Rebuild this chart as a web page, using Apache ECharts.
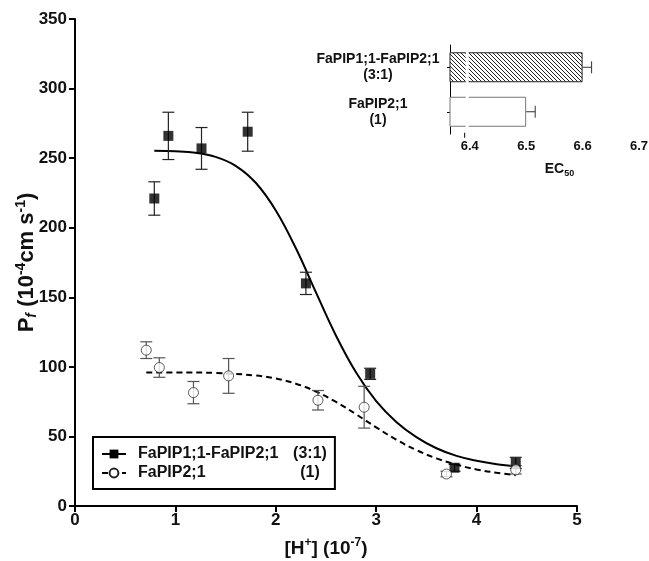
<!DOCTYPE html>
<html>
<head>
<meta charset="utf-8">
<style>
  html, body { margin: 0; padding: 0; background: #fff; }
  #chart { width: 649px; height: 561px; }
</style>
<script src="https://cdn.jsdelivr.net/npm/echarts@6/dist/echarts.min.js"></script>
</head>
<body>
<div id="chart"></div>
<script>
  // main plot: filled squares (3:1 mix)
  const hMix = [0.79, 0.93, 1.26, 1.72, 2.3, 2.94, 3.78, 4.39];
  const pfMix = [221, 266, 257, 269, 160, 95, 27.5, 31];
  const errMix = [12, 17, 15, 14, 8, 4, 2.5, 4];

  // main plot: open circles (FaPIP2;1 alone)
  const hP2 = [0.71, 0.84, 1.18, 1.53, 2.42, 2.88, 3.7, 4.39];
  const pfP2 = [112, 99.5, 81.5, 93.5, 76, 71, 23, 26];
  const errP2 = [6, 7, 8, 12.5, 7, 15, 2, 3];

  // fitted curves
  const fitMixX = [0.79, 1.0, 1.2, 1.4, 1.6, 1.8, 2.0, 2.2, 2.4, 2.6, 2.8, 3.0, 3.2, 3.4, 3.6, 3.8, 4.0, 4.2, 4.39];
  const fitMixY = [255.4, 255, 253.9, 250.9, 244.5, 232.3, 212.4, 185.2, 153.5, 122.4, 95.9, 75.3, 60.4, 49.5, 41.5, 36, 32.5, 30, 28.5];
  const fitP2X = [0.71, 1.0, 1.4, 1.8, 2.0, 2.2, 2.4, 2.6, 2.8, 3.0, 3.2, 3.4, 3.6, 3.8, 4.0, 4.2, 4.39];
  const fitP2Y = [96, 96, 95.6, 93.8, 91.6, 87.9, 82.3, 74.8, 65.9, 56.5, 47.7, 40.2, 34.2, 29.7, 26.3, 23.9, 22.1];

  const xTicks = [0, 1, 2, 3, 4, 5];

  // inset: EC50 bars
  const insetCats = ['FaPIP1;1-FaPIP2;1\n(3:1)', 'FaPIP2;1\n(1)'];
  const ec50 = [6.60, 6.50];
  const ec50Err = [0.016, 0.016];
  const ec50Ticks = [6.4, 6.5, 6.6, 6.7];
  const ec50Break = [6.391, 6.4];

  const legendRatio = { 'FaPIP1;1-FaPIP2;1': '(3:1)', 'FaPIP2;1': '(1)' };

  const FONT = '"Liberation Sans", Arial, sans-serif';

  // diagonal hatch for the mix bar
  const hatch = (() => {
    const c = document.createElement('canvas');
    c.width = 4; c.height = 4;
    const g = c.getContext('2d');
    g.fillStyle = '#fff';
    g.fillRect(0, 0, 4, 4);
    g.strokeStyle = '#222';
    g.lineWidth = 1;
    g.beginPath();
    g.moveTo(-1, -1); g.lineTo(5, 5);
    g.moveTo(-1, 3); g.lineTo(1, 5);
    g.moveTo(3, -1); g.lineTo(5, 1);
    g.stroke();
    return c;
  })();

  const vErrorBar = (color) => (params, api) => {
    const x = api.value(0), y = api.value(1), e = api.value(2);
    const top = api.coord([x, y + e]);
    const bot = api.coord([x, y - e]);
    const w = 6;
    const style = { stroke: color, lineWidth: 1.2 };
    return {
      type: 'group',
      children: [
        { type: 'line', shape: { x1: top[0], y1: top[1], x2: bot[0], y2: bot[1] }, style },
        { type: 'line', shape: { x1: top[0] - w, y1: top[1], x2: top[0] + w, y2: top[1] }, style },
        { type: 'line', shape: { x1: bot[0] - w, y1: bot[1], x2: bot[0] + w, y2: bot[1] }, style },
      ],
    };
  };

  const hErrorBar = (params, api) => {
    const cat = api.value(0), v = api.value(1), e = api.value(2);
    const a = api.coord([v, cat]);
    const b = api.coord([v + e, cat]);
    const h = 6;
    const style = { stroke: '#333', lineWidth: 1 };
    return {
      type: 'group',
      children: [
        { type: 'line', shape: { x1: a[0], y1: a[1], x2: b[0], y2: b[1] }, style },
        { type: 'line', shape: { x1: b[0], y1: b[1] - h, x2: b[0], y2: b[1] + h }, style },
      ],
    };
  };

  const chart = echarts.init(document.getElementById('chart'));

  const option = {
    backgroundColor: '#fff',
    animation: false,
    textStyle: { fontFamily: FONT },
    grid: [
      { left: 75, right: 72, top: 19, bottom: 55, outerBoundsMode: 'none' },
      { left: 450, right: 10, top: 45, bottom: 427, outerBoundsMode: 'none' },
    ],
    legend: {
      orient: 'vertical',
      left: 93,
      top: 437,
      data: ['FaPIP1;1-FaPIP2;1', 'FaPIP2;1'],
      backgroundColor: '#fff',
      borderColor: '#000',
      borderWidth: 2,
      borderRadius: 0,
      padding: [9, 8, 8, 8],
      itemGap: 3,
      itemWidth: 24,
      itemHeight: 11,
      formatter: (name) => `{n|${name}}{r|${legendRatio[name]}}`,
      textStyle: {
        fontFamily: FONT,
        fontWeight: 'bold',
        fontSize: 16,
        color: '#111',
        rich: {
          n: { fontWeight: 'bold', fontSize: 16, width: 152, padding: [0, 0, 0, 7], fontFamily: FONT },
          r: { fontWeight: 'bold', fontSize: 16, width: 40, align: 'center', fontFamily: FONT },
        },
      },
    },
    xAxis: [
      {
        gridIndex: 0,
        type: 'value',
        min: 0,
        max: 5,
        interval: 1,
        name: '{b|[H}{sup|+}{b|] (10}{sup|-7}{b|)}',
        nameLocation: 'middle',
        nameGap: 31,
        nameTextStyle: {
          rich: {
            b: { fontSize: 19, fontWeight: 'bold', color: '#111', fontFamily: FONT, lineHeight: 24 },
            sup: { fontSize: 12, fontWeight: 'bold', color: '#111', fontFamily: FONT, verticalAlign: 'top', lineHeight: 24 },
          },
        },
        axisLine: { onZero: false, lineStyle: { color: '#000', width: 2 } },
        axisTick: { length: 6, lineStyle: { color: '#000', width: 2 } },
        axisLabel: { fontSize: 17, fontWeight: 'bold', color: '#111', margin: 6, customValues: xTicks },
        splitLine: { show: false },
      },
      {
        gridIndex: 1,
        type: 'value',
        min: 6.365,
        max: 6.7,
        name: '{b|EC}{sub|50}',
        nameLocation: 'middle',
        nameGap: 26,
        nameTextStyle: {
          padding: [0, 0, 0, 30],
          rich: {
            b: { fontSize: 14, fontWeight: 'bold', color: '#111', fontFamily: FONT, lineHeight: 18 },
            sub: { fontSize: 9, fontWeight: 'bold', color: '#111', fontFamily: FONT, verticalAlign: 'bottom', lineHeight: 18 },
          },
        },
        axisLine: { onZero: false, lineStyle: { color: '#000', width: 1 } },
        axisTick: { length: 4, customValues: ec50Ticks, lineStyle: { color: '#000' } },
        axisLabel: { fontSize: 13, fontWeight: 'bold', color: '#111', margin: 6, customValues: ec50Ticks },
        splitLine: { show: false },
      },
    ],
    yAxis: [
      {
        gridIndex: 0,
        type: 'value',
        min: 0,
        max: 350,
        interval: 50,
        name: '{b|P}{sub|f}{b| (10}{sup|-4}{b|cm s}{sup|-1}{b|)}',
        nameLocation: 'middle',
        nameRotate: 90,
        nameGap: 36,
        nameMoveOverlap: false,
        nameTextStyle: {
          rich: {
            b: { fontSize: 22, fontWeight: 'bold', color: '#111', fontFamily: FONT, lineHeight: 25 },
            sup: { fontSize: 14, fontWeight: 'bold', color: '#111', fontFamily: FONT, verticalAlign: 'top', lineHeight: 25 },
            sub: { fontSize: 14, fontStyle: 'italic', fontWeight: 'bold', color: '#111', fontFamily: FONT, verticalAlign: 'bottom', lineHeight: 25 },
          },
        },
        axisLine: { show: true, onZero: false, lineStyle: { color: '#000', width: 2 } },
        axisTick: { show: true, length: 6, lineStyle: { color: '#000', width: 2 } },
        axisLabel: { fontSize: 17, fontWeight: 'bold', color: '#111', margin: 8 },
        splitLine: { show: false },
      },
      {
        gridIndex: 1,
        type: 'category',
        data: insetCats,
        inverse: true,
        axisLine: { show: true, lineStyle: { color: '#000', width: 1 } },
        axisTick: { show: true, length: 3, alignWithLabel: true, lineStyle: { color: '#000' } },
        axisLabel: {
          fontSize: 14,
          fontWeight: 'bold',
          color: '#111',
          align: 'center',
          margin: 72,
          lineHeight: 16,
        },
      },
    ],
    series: [
      {
        name: 'FaPIP1;1-FaPIP2;1',
        type: 'line',
        xAxisIndex: 0,
        yAxisIndex: 0,
        data: fitMixX.map((x, i) => [x, fitMixY[i]]),
        smooth: 0.4,
        symbol: 'rect',
        showSymbol: false,
        itemStyle: { color: '#000' },
        lineStyle: { color: '#000', width: 2 },
        z: 3,
      },
      {
        name: 'FaPIP2;1',
        type: 'line',
        xAxisIndex: 0,
        yAxisIndex: 0,
        data: fitP2X.map((x, i) => [x, fitP2Y[i]]),
        smooth: 0.4,
        symbol: 'emptyCircle',
        showSymbol: false,
        itemStyle: { color: '#222' },
        lineStyle: { color: '#000', width: 2, type: [6, 4] },
        z: 3,
      },
      {
        name: 'errMix',
        type: 'custom',
        xAxisIndex: 0,
        yAxisIndex: 0,
        data: hMix.map((x, i) => [x, pfMix[i], errMix[i]]),
        renderItem: vErrorBar('#222'),
        z: 4,
      },
      {
        name: 'errP2',
        type: 'custom',
        xAxisIndex: 0,
        yAxisIndex: 0,
        data: hP2.map((x, i) => [x, pfP2[i], errP2[i]]),
        renderItem: vErrorBar('#555'),
        z: 4,
      },
      {
        name: 'ptsMix',
        type: 'scatter',
        xAxisIndex: 0,
        yAxisIndex: 0,
        data: hMix.map((x, i) => [x, pfMix[i]]),
        symbol: 'rect',
        symbolSize: 10,
        itemStyle: { color: '#000' },
        z: 5,
      },
      {
        name: 'ptsP2',
        type: 'scatter',
        xAxisIndex: 0,
        yAxisIndex: 0,
        data: hP2.map((x, i) => [x, pfP2[i]]),
        symbol: 'circle',
        symbolSize: 10,
        itemStyle: { color: '#fff', borderColor: '#333', borderWidth: 1 },
        z: 5,
      },
      {
        name: 'ec50',
        type: 'bar',
        xAxisIndex: 1,
        yAxisIndex: 1,
        barWidth: 30,
        data: [
          { value: ec50[0], itemStyle: { color: { image: hatch, repeat: 'repeat' }, borderColor: '#222', borderWidth: 1 } },
          { value: ec50[1], itemStyle: { color: '#fff', borderColor: '#777', borderWidth: 1 } },
        ],
        z: 2,
      },
      {
        name: 'ec50Err',
        type: 'custom',
        xAxisIndex: 1,
        yAxisIndex: 1,
        data: ec50.map((v, i) => [i, v, ec50Err[i]]),
        renderItem: hErrorBar,
        z: 3,
      },
    ],
  };

  chart.setOption(option);

  // axis break on the inset value axis
  const bx0 = chart.convertToPixel({ xAxisIndex: 1 }, ec50Break[0]);
  const bx1 = chart.convertToPixel({ xAxisIndex: 1 }, ec50Break[1]);
  const by0 = chart.convertToPixel({ yAxisIndex: 1 }, 0) - 20;
  const by1 = chart.convertToPixel({ yAxisIndex: 1 }, 1) + 22;
  chart.setOption({
    graphic: [
      { type: 'rect', shape: { x: bx0 + 1, y: by0, width: bx1 - bx0 - 2, height: by1 - by0 }, style: { fill: '#fff' }, z: 100 },
      { type: 'line', shape: { x1: bx0, y1: by1 - 1, x2: bx0, y2: by1 + 4 }, style: { stroke: '#000', lineWidth: 1 }, z: 101 },
    ],
  });
</script>
</body>
</html>
